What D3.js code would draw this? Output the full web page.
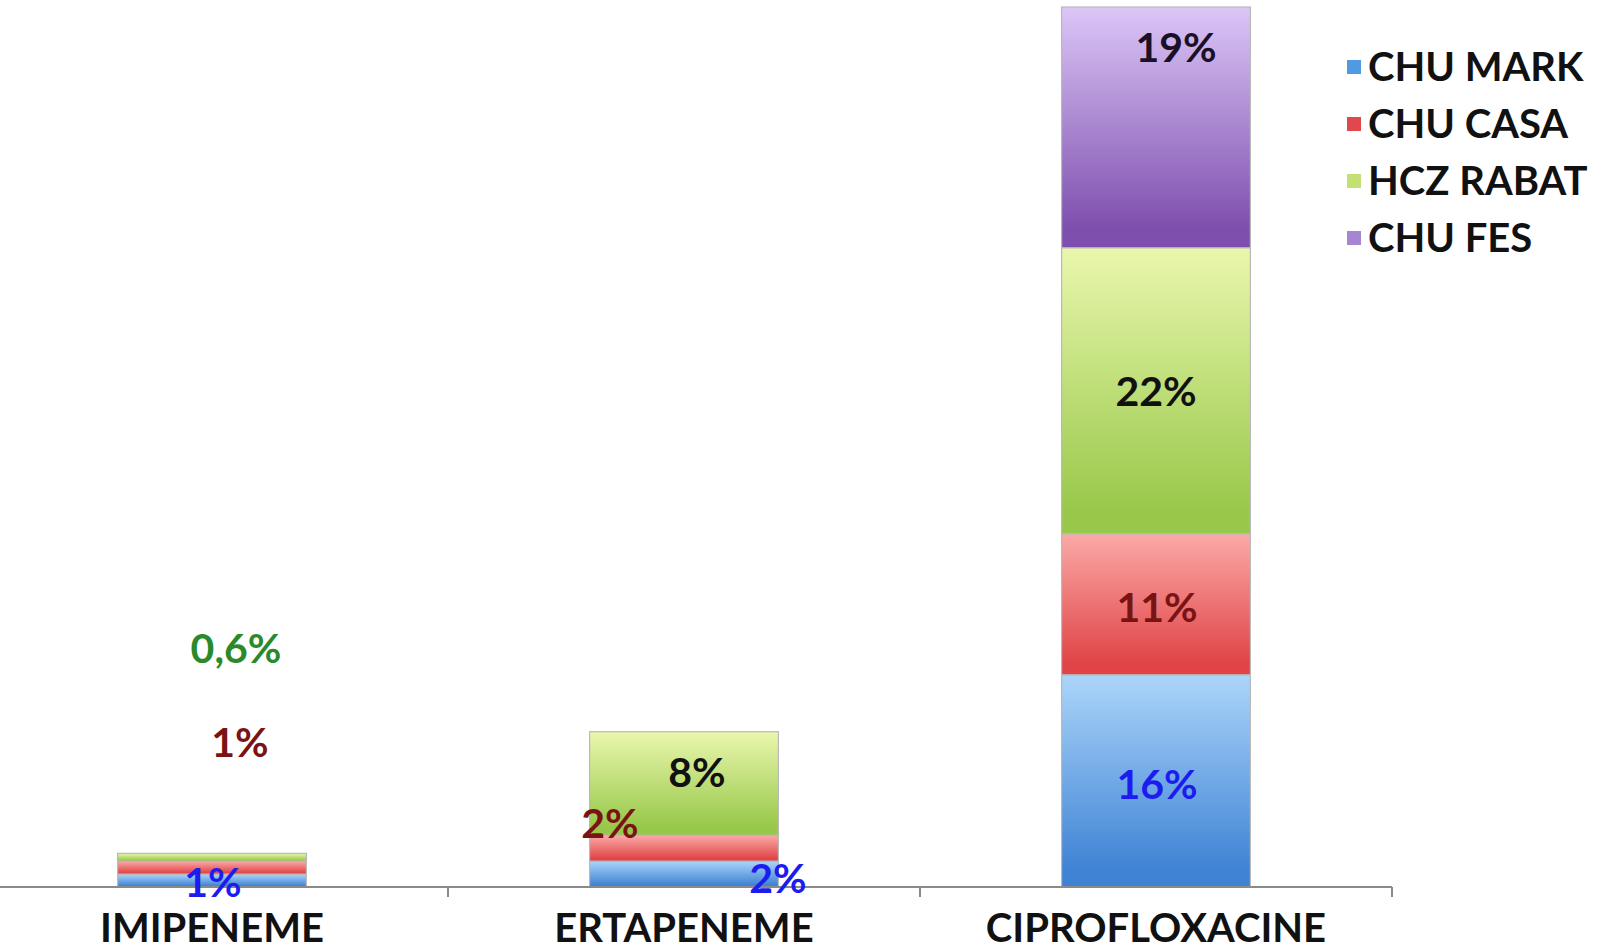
<!DOCTYPE html>
<html>
<head>
    <meta charset="utf-8">
    <script src="https://d3js.org/d3.v7.min.js"></script>
    <style>
        body { margin: 0; background: #fff; }
        text { font-family: Lato, "Open Sans", sans-serif; font-weight: bold; }
    </style>
</head>
<body>
    <svg id="chart" width="1601" height="950"></svg>

    <script>
        // Data (percent)
        const categories = ["IMIPENEME", "ERTAPENEME", "CIPROFLOXACINE"];
        const seriesNames = ["CHU MARK", "CHU CASA", "HCZ RABAT", "CHU FES"];
        const chuMark  = [1, 2, 16.4];
        const chuCasa  = [1, 2, 10.9];
        const hczRabat = [0.6, 8, 22.1];
        const chuFes   = [0, 0, 18.6];

        // gradient top / bottom colour for each series, plus legend swatch and label colour
        const gradTop    = ["#acd5fa", "#fbaaa8", "#eaf7ad", "#dcc6f7"];
        const gradBottom = ["#3f83d4", "#e04446", "#98c84a", "#7e4fae"];
        const swatch     = ["#4f9be2", "#e2474e", "#c3e074", "#a486d3"];
        const labelColor = ["#1c1cf0", "#7a1414", "#111111", "#1a1028"];

        // manual nudges of the data labels (dx, dy from segment centre), as placed in the original
        const labelNudge = {
            "IMIPENEME":      [[1, 2], [28, -125], [24, -209], [0, 0]],
            "ERTAPENEME":     [[94, 4], [-74, -25], [13, -11], [0, 0]],
            "CIPROFLOXACINE": [[1, 3], [1, 3], [0, 1], [20, -80]]
        };

        const svg = d3.select("#chart");
        const baseY = 887;
        const fontSize = 41;

        const rows = categories.map((c, i) => ({
            cat: c,
            "CHU MARK": chuMark[i],
            "CHU CASA": chuCasa[i],
            "HCZ RABAT": hczRabat[i],
            "CHU FES": chuFes[i]
        }));
        const stacked = d3.stack().keys(seriesNames)(rows);

        const x = d3.scaleBand()
            .domain(categories)
            .range([-24, 1392])
            .paddingInner(0.6)
            .paddingOuter(0.3);

        const y = d3.scaleLinear()
            .domain([0, 68])
            .range([baseY, 7]);

        // gradients
        const defs = svg.append("defs");
        seriesNames.forEach((s, i) => {
            const g = defs.append("linearGradient")
                .attr("id", "grad" + i)
                .attr("x1", 0).attr("y1", 0).attr("x2", 0).attr("y2", 1);
            g.append("stop").attr("offset", "0%").attr("stop-color", gradTop[i]);
            g.append("stop").attr("offset", "92%").attr("stop-color", gradBottom[i]);
            g.append("stop").attr("offset", "100%").attr("stop-color", gradBottom[i]);
        });

        // bars
        svg.append("g")
            .selectAll("g")
            .data(stacked)
            .join("g")
                .attr("fill", (d, i) => "url(#grad" + i + ")")
            .selectAll("rect")
            .data(d => d.filter(p => p[1] - p[0] > 0))
            .join("rect")
                .attr("x", d => x(d.data.cat))
                .attr("y", d => y(d[1]))
                .attr("width", x.bandwidth())
                .attr("height", d => y(d[0]) - y(d[1]))
                .attr("stroke", "#b9b9b9")
                .attr("stroke-width", 1.2);

        // axis
        const step = x.step();
        const xAxis = svg.append("g").attr("transform", "translate(0," + baseY + ")");
        xAxis.append("line")
            .attr("x1", x.range()[0]).attr("x2", x.range()[1])
            .attr("y1", 0).attr("y2", 0)
            .attr("stroke", "#8a8a8a").attr("stroke-width", 2);
        xAxis.selectAll(".tick")
            .data(categories)
            .join("line")
                .attr("class", "tick")
                .attr("x1", d => x(d) + x.bandwidth() + step * 0.3)
                .attr("x2", d => x(d) + x.bandwidth() + step * 0.3)
                .attr("y1", 0).attr("y2", 10)
                .attr("stroke", "#8a8a8a").attr("stroke-width", 2);
        xAxis.selectAll(".lab")
            .data(categories)
            .join("text")
                .attr("class", "lab")
                .attr("x", d => x(d) + x.bandwidth() / 2)
                .attr("y", 55)
                .attr("text-anchor", "middle")
                .attr("font-size", 40)
                .attr("fill", "#111")
                .text(d => d);

        // data labels
        const fr = d3.formatLocale({ decimal: ",", thousands: " ", grouping: [3], currency: ["", ""] });
        const fmt = v => (v < 1 ? fr.format(".1f")(v) : Math.round(v)) + "%";

        stacked.forEach((layer, si) => {
            svg.append("g")
                .selectAll("text")
                .data(layer.filter(p => p[1] - p[0] > 0))
                .join("text")
                    .attr("x", d => x(d.data.cat) + x.bandwidth() / 2 + labelNudge[d.data.cat][si][0])
                    .attr("y", d => (y(d[0]) + y(d[1])) / 2 + labelNudge[d.data.cat][si][1] + fontSize * 0.36)
                    .attr("text-anchor", "middle")
                    .attr("font-size", fontSize)
                    .attr("fill", d => (d.data.cat === "IMIPENEME" && si === 2) ? "#2a8a2a" : labelColor[si])
                    .text(d => fmt(d[1] - d[0]));
        });

        // legend
        const legend = svg.append("g").attr("transform", "translate(1347,67)");
        const item = legend.selectAll("g")
            .data(seriesNames)
            .join("g")
                .attr("transform", (d, i) => "translate(0," + i * 57 + ")");
        item.append("rect")
            .attr("x", 0).attr("y", -7)
            .attr("width", 14).attr("height", 14)
            .attr("fill", (d, i) => swatch[i]);
        item.append("text")
            .attr("x", 21)
            .attr("y", 14)
            .attr("font-size", 40)
            .attr("fill", "#111")
            .text(d => d);
    </script>
</body>
</html>
